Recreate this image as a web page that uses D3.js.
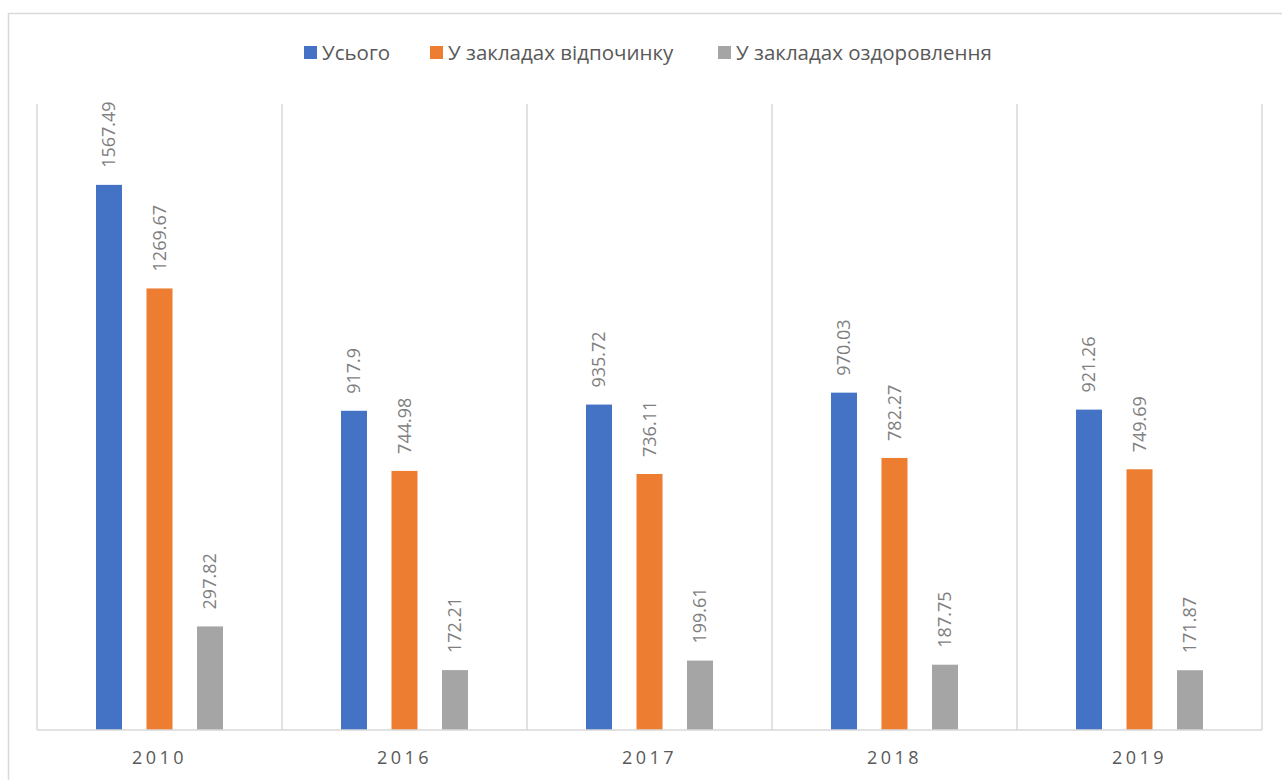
<!DOCTYPE html>
<html>
<head>
<meta charset="utf-8">
<script src="https://cdn.jsdelivr.net/npm/d3@7/dist/d3.min.js"></script>
<style>
  body { margin: 0; background: #fff; }
  svg { display: block; font-family: "Open Sans", "Noto Sans", sans-serif; }
</style>
</head>
<body>
<svg width="1282" height="780"></svg>
<script>
var years = ["2010", "2016", "2017", "2018", "2019"];
var seriesNames = ["Усього", "У закладах відпочинку", "У закладах оздоровлення"];
var total = [1567.49, 917.9, 935.72, 970.03, 921.26];
var rest = [1269.67, 744.98, 736.11, 782.27, 749.69];
var health = [297.82, 172.21, 199.61, 187.75, 171.87];
var colors = ["#4472C4", "#ED7D31", "#A5A5A5"];

var svg = d3.select("svg");

// chart frame
svg.append("rect").attr("x", 8.5).attr("y", 13.5).attr("width", 1290).attr("height", 780)
  .attr("fill", "none").attr("stroke", "#d9d9d9").attr("stroke-width", 1.5);

var plotLeft = 37, plotRight = 1262, plotTop = 104, plotBottom = 730;

var x = d3.scaleBand().domain(years).range([plotLeft, plotRight]);
var y = d3.scaleLinear().domain([0, 1800]).range([plotBottom, plotTop]);

var bw = 26, step = 50.5;

// category separators
var seps = years.map(function(d) { return x(d); }).concat([plotRight]);
svg.append("g").selectAll("line").data(seps).join("line")
  .attr("x1", function(d) { return d; }).attr("x2", function(d) { return d; })
  .attr("y1", plotTop).attr("y2", plotBottom)
  .attr("stroke", "#d9d9d9").attr("stroke-width", 1.5);

var rows = [total, rest, health];
var data = [];
rows.forEach(function(vals, s) {
  vals.forEach(function(v, i) { data.push({ s: s, year: years[i], v: v }); });
});

function cx(d) { return x(d.year) + x.bandwidth() / 2 + (d.s - 1) * step; }

svg.append("g").selectAll("rect").data(data).join("rect")
  .attr("x", function(d) { return cx(d) - bw / 2; })
  .attr("y", function(d) { return y(d.v); })
  .attr("width", bw)
  .attr("height", function(d) { return plotBottom - y(d.v); })
  .attr("fill", function(d) { return colors[d.s]; });

// value labels
svg.append("g").selectAll("text").data(data).join("text")
  .attr("transform", function(d) { return "translate(" + cx(d) + "," + (y(d.v) - 17) + ") rotate(-90)"; })
  .attr("dy", "0.35em")
  .attr("fill", "#7f7f7f")
  .style("font-size", "18px")
  .text(function(d) { return d.v; });

// x axis
svg.append("line").attr("x1", plotLeft).attr("x2", plotRight).attr("y1", plotBottom).attr("y2", plotBottom)
  .attr("stroke", "#d9d9d9").attr("stroke-width", 1.5);

svg.append("g").selectAll("text").data(years).join("text")
  .attr("x", function(d) { return x(d) + x.bandwidth() / 2; })
  .attr("y", 764)
  .attr("text-anchor", "middle")
  .attr("fill", "#595959")
  .style("font-size", "18px")
  .style("letter-spacing", "3.5px")
  .text(function(d) { return d; });

// legend
var legendX = [304, 430, 718];
var lg = svg.append("g").selectAll("g").data(seriesNames).join("g")
  .attr("transform", function(d, i) { return "translate(" + legendX[i] + ",46)"; });
lg.append("rect").attr("width", 13).attr("height", 13)
  .attr("fill", function(d, i) { return colors[i]; });
lg.append("text").attr("x", 18).attr("y", 13.5)
  .attr("fill", "#595959")
  .style("font-size", "20.5px")
  .text(function(d) { return d; });
</script>
</body>
</html>
